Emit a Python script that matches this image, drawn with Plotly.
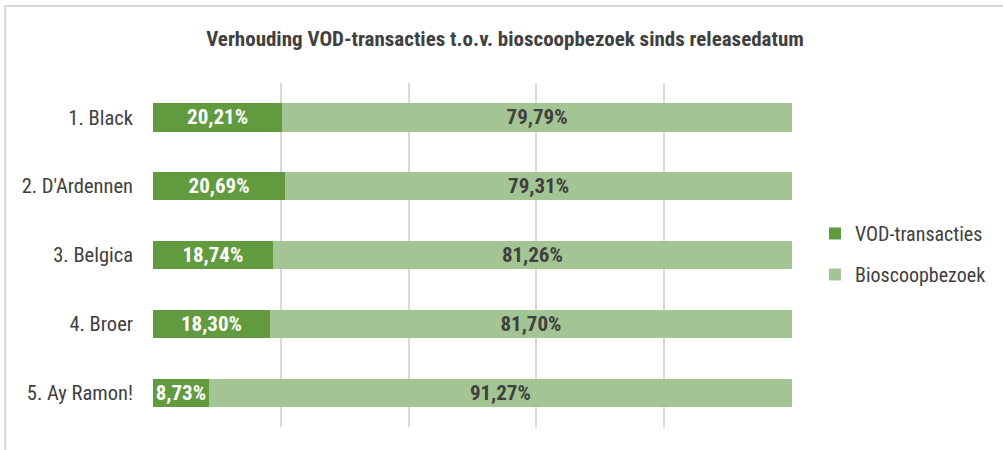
import plotly.graph_objects as go

# data
films = ["1. Black", "2. D'Ardennen", "3. Belgica", "4. Broer", "5. Ay Ramon!"]
vod = [20.21, 20.69, 18.74, 18.30, 8.73]
bioscoop = [79.79, 79.31, 81.26, 81.70, 91.27]

FONT = "Liberation Sans Narrow, Arial Narrow, Roboto Condensed, Liberation Sans, sans-serif"
DARK = "#629B3F"
LIGHT = "#A3C593"
GREY = "#404040"


def pct(vals):
    # Dutch notation: comma as decimal separator
    return [f"{v:.2f}%".replace(".", ",") for v in vals]


fig = go.Figure()
fig.add_trace(go.Bar(
    y=films, x=vod, name="VOD-transacties", orientation="h", legendgroup="a",
    marker=dict(color=DARK, line=dict(width=0)),
    text=pct(vod), textposition="inside", insidetextanchor="middle",
    textfont=dict(family=FONT, size=21, color="white", weight="bold"),
    constraintext="none", hoverinfo="skip",
))
fig.add_trace(go.Bar(
    y=films, x=bioscoop, name="Bioscoopbezoek", orientation="h", legendgroup="b",
    marker=dict(color=LIGHT, line=dict(width=0)),
    text=pct(bioscoop), textposition="inside", insidetextanchor="middle",
    textfont=dict(family=FONT, size=21, color=GREY, weight="bold"),
    constraintext="none", hoverinfo="skip",
))

# outer chart border (cut off at the right and bottom like the original)
fig.add_shape(type="rect", xref="paper", yref="paper",
              x0=-0.2313, x1=1.6, y0=-0.3, y1=1.224,
              line=dict(color="#D9D9D9", width=2), layer="below")

fig.update_layout(
    width=1003, height=450,
    barmode="stack", bargap=0.59,
    margin=dict(l=153, r=208, t=83, b=23),
    paper_bgcolor="white", plot_bgcolor="white",
    font=dict(family=FONT, color=GREY, size=20),
    title=dict(text="<b>Verhouding VOD-transacties t.o.v. bioscoopbezoek sinds releasedatum</b>",
               x=0.5035, xref="container", xanchor="center",
               y=0.914, yref="container", yanchor="middle",
               font=dict(family=FONT, size=21, color=GREY)),
    legend=dict(x=1.036, y=0.503, xanchor="left", yanchor="middle",
                font=dict(family=FONT, size=20, color=GREY),
                itemwidth=30, tracegroupgap=12, traceorder="grouped"),
    showlegend=True,
)
fig.update_xaxes(range=[0, 100], dtick=20, showgrid=True, gridcolor="#D9D9D9",
                 gridwidth=1.5, zeroline=False, showticklabels=False, showline=False)
fig.update_yaxes(autorange="reversed", showgrid=False, zeroline=False, showline=False,
                 ticks="", ticklabelstandoff=19, tickfont=dict(family=FONT, size=20.5, color=GREY))

# drop the default page margin so the chart sits at the window's top-left
fig.write_html("out.html", config={"displayModeBar": False},
               post_script="document.body.style.margin='0';")
